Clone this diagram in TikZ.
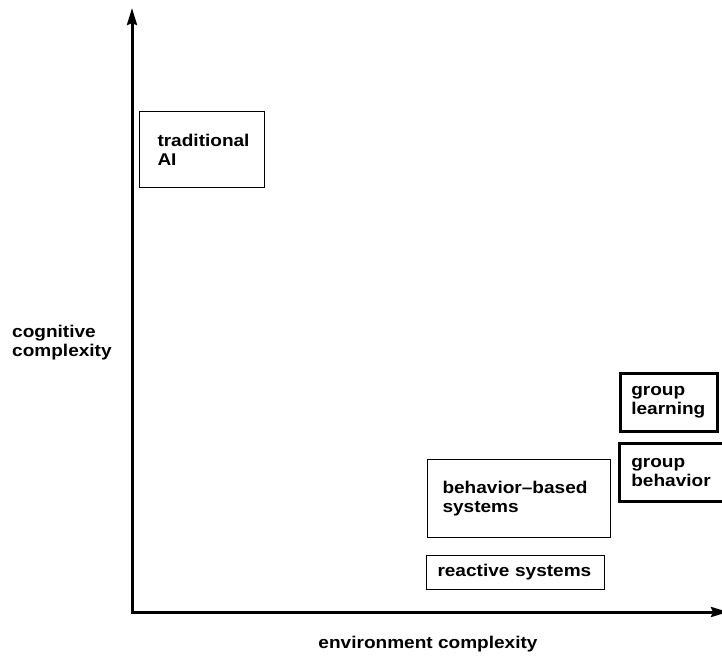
\documentclass[tikz,border=0pt]{standalone}
\usepackage{fontspec}
\setmainfont{Liberation Sans}[FakeStretch=1.12]
\usepackage{tikz}
\usetikzlibrary{arrows.meta, positioning}

\tikzset{
  axis/.style={line width=3pt, -{Stealth[length=17pt, width=10pt, inset=2pt]}},
  area/.style={draw, line width=1pt, anchor=north west, align=left,
               inner ysep=0pt, font=\bfseries\fontsize{17}{19}\selectfont},
  wide/.style={area, line width=2.6pt},
  caption/.style={inner sep=0pt, align=left, font=\bfseries\fontsize{17}{19}\selectfont}
}

\begin{document}
\begin{tikzpicture}[x=1pt, y=-1pt]
        \useasboundingbox (0,0) rectangle (722,660);
        % axes
        \coordinate (origin) at (132,612);
        \coordinate (ytip) at (132,8);
        \coordinate (xtip) at (728,612);
        \draw[axis] (origin) -- (ytip);
        \draw[axis] ([xshift=-1.5pt]origin) -- (xtip);
        \node[caption, anchor=west] (cog) at (12,343) {cognitive\\complexity};
        \node[caption, anchor=base] (env) at (428,648) {environment complexity};
        % regions
        \node[area, inner xsep=18pt, text width=89pt, minimum height=76pt] (tai) at (139,111) {traditional\\AI};
        \node[wide, inner xsep=11pt, text width=75pt, minimum height=58pt] (glearn) at (619,372) {group\\learning};
        \node[wide, inner xsep=12pt, text width=80pt, minimum height=58pt] (gbehav) at (618,442) {group\\behavior};
        \node[area, inner xsep=15pt, text width=153pt, minimum height=78pt] (bbs) at (427,459) {behavior--based\\systems};
        \node[area, inner xsep=11pt, text width=156pt, minimum height=34pt] (react) at (426,555) {reactive systems};
      \end{tikzpicture}
\end{document}
